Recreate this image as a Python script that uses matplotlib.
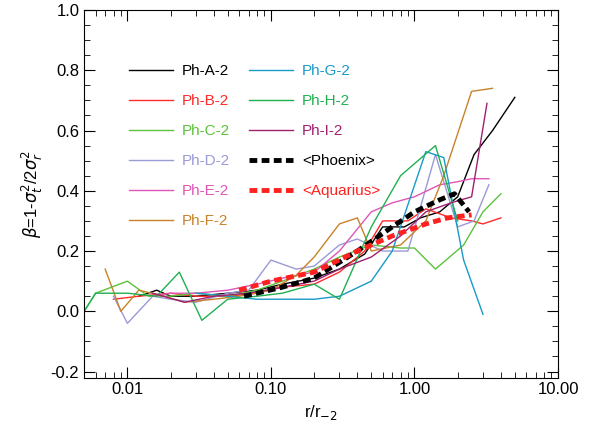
import matplotlib
matplotlib.use("Agg")
import matplotlib.pyplot as plt
from matplotlib.ticker import FixedLocator, MultipleLocator, NullFormatter

plt.rcParams["font.family"] = ["Liberation Sans", "DejaVu Sans"]

labels = ["Ph-A-2", "Ph-B-2", "Ph-C-2", "Ph-D-2", "Ph-E-2", "Ph-F-2",
          "Ph-G-2", "Ph-H-2", "Ph-I-2"]
colors = ["black", "#ff2a2a", "#5cc23a", "#9a9ad6", "#e055b8", "#c8822a",
          "#1a9ac8", "#20b050", "#a02070"]

a_r = [0.012, 0.016, 0.02, 0.03, 0.05, 0.08, 0.12, 0.2, 0.3, 0.45, 0.6, 0.85, 1.1, 1.5, 2.0, 2.6, 3.5, 5.0]
a_b = [0.05, 0.07, 0.05, 0.05, 0.06, 0.07, 0.09, 0.11, 0.14, 0.19, 0.28, 0.28, 0.31, 0.33, 0.38, 0.52, 0.6, 0.71]
b_r = [0.008, 0.012, 0.02, 0.03, 0.05, 0.08, 0.12, 0.2, 0.3, 0.45, 0.6, 0.9, 1.2, 1.8, 2.5, 3.0, 4.0]
b_b = [0.04, 0.05, 0.06, 0.05, 0.05, 0.06, 0.08, 0.09, 0.13, 0.2, 0.3, 0.3, 0.34, 0.31, 0.3, 0.29, 0.31]
c_r = [0.005, 0.006, 0.01, 0.014, 0.02, 0.03, 0.05, 0.08, 0.12, 0.2, 0.3, 0.5, 0.8, 1.0, 1.4, 2.2, 3.0, 4.0]
c_b = [0.0, 0.06, 0.10, 0.05, 0.05, 0.06, 0.05, 0.07, 0.10, 0.14, 0.18, 0.22, 0.21, 0.21, 0.14, 0.22, 0.33, 0.39]
d_r = [0.008, 0.01, 0.015, 0.02, 0.03, 0.05, 0.07, 0.1, 0.15, 0.2, 0.3, 0.4, 0.6, 0.9, 1.4, 2.0, 2.6, 3.3]
d_b = [0.05, -0.04, 0.05, 0.04, 0.03, 0.06, 0.07, 0.17, 0.14, 0.15, 0.22, 0.24, 0.2, 0.2, 0.52, 0.28, 0.30, 0.42]
e_r = [0.015, 0.02, 0.03, 0.05, 0.08, 0.12, 0.2, 0.3, 0.5, 0.7, 1.0, 1.5, 2.0, 2.5, 3.3]
e_b = [0.05, 0.06, 0.06, 0.07, 0.09, 0.11, 0.13, 0.2, 0.33, 0.36, 0.38, 0.42, 0.43, 0.44, 0.44]
f_r = [0.007, 0.009, 0.012, 0.018, 0.025, 0.04, 0.06, 0.1, 0.15, 0.2, 0.3, 0.4, 0.5, 0.8, 1.2, 1.6, 2.5, 3.5]
f_b = [0.14, 0.0, 0.07, 0.05, 0.03, 0.04, 0.05, 0.07, 0.12, 0.18, 0.29, 0.31, 0.2, 0.22, 0.3, 0.45, 0.73, 0.74]
g_r = [0.03, 0.05, 0.08, 0.12, 0.2, 0.3, 0.5, 0.7, 1.2, 1.6, 2.2, 3.0]
g_b = [0.06, 0.05, 0.04, 0.04, 0.04, 0.05, 0.10, 0.2, 0.53, 0.51, 0.17, -0.01]
h_r = [0.005, 0.006, 0.01, 0.016, 0.023, 0.033, 0.05, 0.08, 0.12, 0.2, 0.3, 0.5, 0.8, 1.4, 2.0]
h_b = [0.0, 0.06, 0.06, 0.05, 0.13, -0.03, 0.04, 0.05, 0.06, 0.09, 0.04, 0.28, 0.45, 0.55, 0.3]
i_r = [0.015, 0.025, 0.04, 0.07, 0.12, 0.2, 0.3, 0.5, 0.8, 1.2, 1.8, 2.5, 3.2]
i_b = [0.06, 0.03, 0.05, 0.06, 0.08, 0.10, 0.14, 0.18, 0.25, 0.33, 0.36, 0.38, 0.69]
radii = [a_r, b_r, c_r, d_r, e_r, f_r, g_r, h_r, i_r]
betas = [a_b, b_b, c_b, d_b, e_b, f_b, g_b, h_b, i_b]

phx_r = [0.065, 0.12, 0.2, 0.4, 0.7, 1.0, 1.5, 1.9, 2.4]
phx_b = [0.05, 0.08, 0.11, 0.2, 0.28, 0.33, 0.37, 0.39, 0.33]
aq_r = [0.06, 0.1, 0.2, 0.4, 0.7, 1.2, 1.7, 2.5]
aq_b = [0.07, 0.10, 0.13, 0.2, 0.25, 0.29, 0.31, 0.32]

fig, ax = plt.subplots(figsize=(5.93, 4.34), dpi=100)
fig.subplots_adjust(left=0.142, right=0.941, top=0.977, bottom=0.13)

for r, b, c, lab in zip(radii, betas, colors, labels):
    ax.plot(r, b, color=c, lw=1.0, label=lab)
ax.plot(phx_r, phx_b, color="black", lw=3.5, ls=(0, (1.6, 0.9)), label="<Phoenix>")
ax.plot(aq_r, aq_b, color="#ff2020", lw=3.5, ls=(0, (1.6, 0.9)), label="<Aquarius>")

ax.set_xscale("log")
ax.set_xlim(0.005, 10)
ax.set_ylim(-0.22, 1.0)
ax.xaxis.set_major_locator(FixedLocator([0.01, 0.1, 1, 10]))
ax.set_xticklabels(["0.01", "0.10", "1.00", "10.00"])
ax.xaxis.set_minor_formatter(NullFormatter())
ax.yaxis.set_major_locator(MultipleLocator(0.2))
ax.yaxis.set_minor_locator(MultipleLocator(0.05))
ax.set_yticklabels([f"{v:.1f}" for v in ax.get_yticks()])
ax.tick_params(which="both", direction="in", top=True, right=True, labelsize=12)
ax.tick_params(which="major", length=8)
ax.tick_params(which="minor", length=4)
ax.set_xlabel(r"r/r$_{-2}$", fontsize=12)
ax.set_ylabel(r"$\beta$=1-$\sigma_t^2$/2$\sigma_r^2$", fontsize=12)

ax.legend(ncol=2, loc="upper left", bbox_to_anchor=(0.065, 0.89), frameon=False,
          labelcolor="linecolor", fontsize=11, handlelength=2.9, handletextpad=0.6,
          labelspacing=1.05, columnspacing=1.2)

fig.savefig("out.png")
